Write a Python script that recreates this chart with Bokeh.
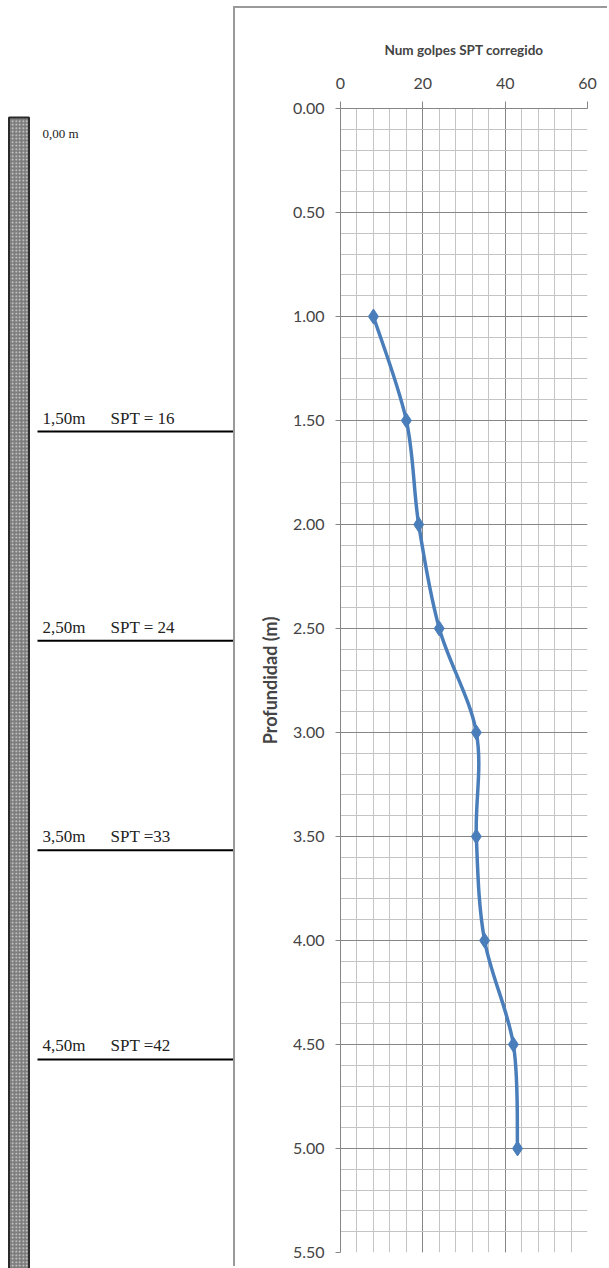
from bokeh.plotting import figure
from bokeh.layouts import row, column
from bokeh.models import Range1d, FixedTicker, NumeralTickFormatter
from bokeh.embed import file_html
from bokeh.resources import INLINE
from bokeh.core.properties import value
import numpy as np

# ---------------- data ----------------
depth = [1.0, 1.5, 2.0, 2.5, 3.0, 3.5, 4.0, 4.5, 5.0]
spt = [8, 16, 19, 24, 33, 33, 35, 42, 43]

x_ticks = [0, 20, 40, 60]
y_ticks = [0.0, 0.5, 1.0, 1.5, 2.0, 2.5, 3.0, 3.5, 4.0, 4.5, 5.0, 5.5]
x_minor = list(range(0, 61, 4))
y_minor = [round(i * 0.1, 1) for i in range(0, 56)]

strata_depths = [1.5, 2.5, 3.5, 4.5]
strata_depth_labels = ["1,50m", "2,50m", "3,50m", "4,50m"]
strata_spt_labels = ["SPT = 16", "SPT = 24", "SPT =33", "SPT =42"]
top_depth = [0.0]
top_label = ["0,00 m"]

# ---------------- left schematic ----------------
H = 1268
k = 209.3
d_top = -117.1 / k
d_bot = d_top + H / k

left = figure(width=233, height=H, x_range=Range1d(0, 233), y_range=Range1d(d_bot, d_top),
              x_axis_location=None, y_axis_location=None, toolbar_location=None,
              output_backend="svg", min_border=0, outline_line_color=None)
left.grid.visible = False

left.quad(left=[8.5], right=[28.5], top=top_depth, bottom=[d_bot + 1], fill_color="#7c7c7c",
          hatch_pattern="dot", hatch_color="#dcdcdc", hatch_scale=3.5, hatch_weight=1.2,
          line_color="#2a2a2a", line_width=2)

left.text(x=[42], y=top_depth, text=top_label, text_font=value("Liberation Serif"),
          text_font_size="13px", text_baseline="middle", y_offset=16, text_color="#222222")

left.segment(x0=[37] * len(strata_depths), y0=strata_depths, x1=[233] * len(strata_depths),
             y1=strata_depths, line_color="black", line_width=2)
left.text(x=[42] * len(strata_depths), y=strata_depths, text=strata_depth_labels,
          text_font=value("Liberation Serif"), text_font_size="17px",
          text_baseline="bottom", y_offset=-4, text_color="#222222")
left.text(x=[110] * len(strata_depths), y=strata_depths, text=strata_spt_labels,
          text_font=value("Liberation Serif"), text_font_size="17px",
          text_baseline="bottom", y_offset=-4, text_color="#222222")

# ---------------- right chart ----------------
p = figure(width=374, height=H - 8, x_range=Range1d(0, 60), y_range=Range1d(5.5, 0),
           x_axis_location="above", toolbar_location=None, output_backend="svg",
           min_border_left=105, min_border_right=22, min_border_top=100, min_border_bottom=16,
           outline_line_color=None)
p.styles = {"border-left": "2px solid #9a9a9a", "border-top": "2px solid #9a9a9a",
            "margin-top": "6px"}

font = "Lato"
xa = p.xaxis[0]
xa.ticker = FixedTicker(ticks=x_ticks)
xa.axis_label = "Num golpes SPT corregido"
xa.axis_label_text_font = font
xa.axis_label_text_font_style = "bold"
xa.axis_label_text_font_size = "13.5px"
xa.axis_label_standoff = 17
xa.major_label_text_font = font
xa.major_label_text_font_size = "16px"
xa.major_label_standoff = 13
xa.major_tick_out = 7
xa.major_tick_in = 0
xa.minor_tick_line_color = None
xa.axis_line_color = "#868686"
xa.major_tick_line_color = "#868686"

ya = p.yaxis[0]
ya.ticker = FixedTicker(ticks=y_ticks)
ya.formatter = NumeralTickFormatter(format="0.00")
ya.axis_label = "Profundidad (m)"
ya.axis_label_text_font = font
ya.axis_label_text_font_style = "bold"
ya.axis_label_text_font_size = "18px"
ya.axis_label_standoff = 9
ya.major_label_text_font = font
ya.major_label_text_font_size = "16px"
ya.major_label_standoff = 11
ya.major_tick_out = 5
ya.major_tick_in = 0
ya.minor_tick_line_color = None
ya.axis_line_color = "#868686"
ya.major_tick_line_color = "#868686"

p.xgrid.ticker = FixedTicker(ticks=x_ticks, minor_ticks=x_minor)
p.ygrid.ticker = FixedTicker(ticks=y_ticks, minor_ticks=y_minor)
for g in (p.xgrid, p.ygrid):
    g.grid_line_color = "#868686"
    g.grid_line_width = 1
    g.minor_grid_line_color = "#c4c4c4"
    g.minor_grid_line_width = 1

# smooth curve (Catmull-Rom style bezier through the data points)
xs = np.array(spt, dtype=float)
ys = np.array(depth, dtype=float)
n = len(xs)
t = 1.0 / 6.0
cx0, cy0, cx1, cy1 = [], [], [], []
for i in range(n - 1):
    xp, yp = (xs[i - 1], ys[i - 1]) if i > 0 else (xs[i], ys[i])
    xn2, yn2 = (xs[i + 2], ys[i + 2]) if i + 2 < n else (xs[i + 1], ys[i + 1])
    cx0.append(xs[i] + (xs[i + 1] - xp) * t)
    cy0.append(ys[i] + (ys[i + 1] - yp) * t)
    cx1.append(xs[i + 1] - (xn2 - xs[i]) * t)
    cy1.append(ys[i + 1] - (yn2 - ys[i]) * t)
p.bezier(x0=xs[:-1], y0=ys[:-1], x1=xs[1:], y1=ys[1:], cx0=cx0, cy0=cy0, cx1=cx1, cy1=cy1,
         line_color="#4a7ebb", line_width=3.5)
p.scatter(x=spt, y=depth, marker="diamond", size=15, fill_color="#4a7ebb", line_color="#4a7ebb")

layout = row(column(left), column(p))
open("out.html", "w").write(file_html(layout, INLINE))
